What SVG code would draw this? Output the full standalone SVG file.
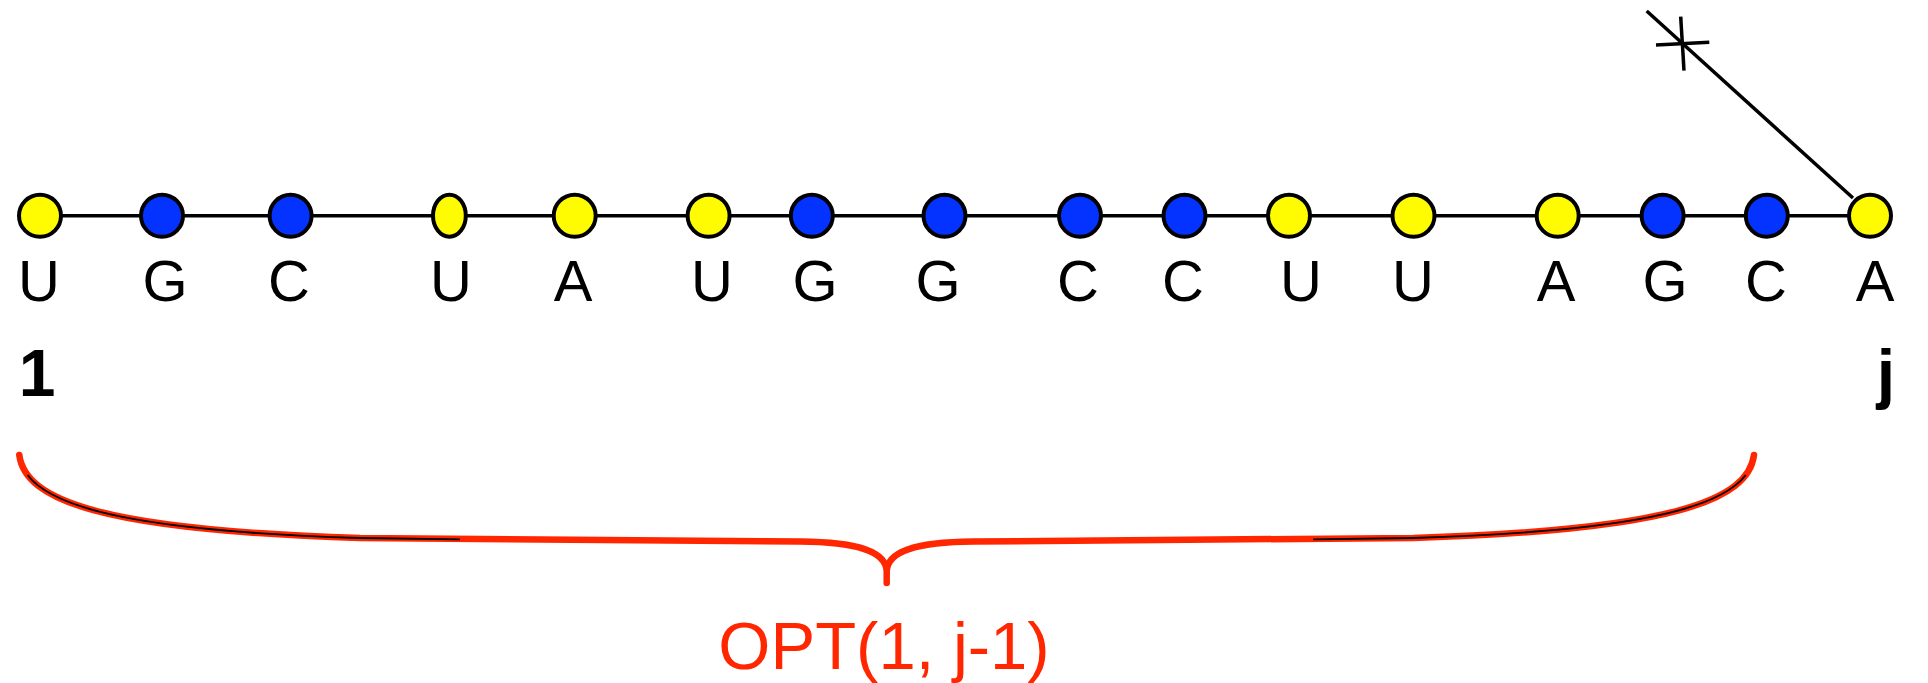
<svg xmlns="http://www.w3.org/2000/svg" width="1928" height="683" viewBox="0 0 1928 683">
<style>
.y{fill:#FFFB00;stroke:#000;stroke-width:4}
.b{fill:#0433FF;stroke:#000;stroke-width:4}
.lbl{font-family:"Liberation Sans",Arial,sans-serif;font-size:58px;fill:#000;text-anchor:middle}
.idx{font-family:"Liberation Sans",Arial,sans-serif;font-size:66px;font-weight:bold;fill:#000;text-anchor:middle}
.con{stroke:#000;stroke-width:3.5;fill:none}
.opt{font-family:"Liberation Sans",Arial,sans-serif;font-size:67px;fill:#FF2600;text-anchor:middle}
</style>
<rect width="1928" height="683" fill="#fff"/>
<g id="connectors" class="con">
<line x1="40" y1="215.7" x2="1870" y2="215.7"/>
<line x1="1853" y1="198" x2="1646.7" y2="11"/>
<line x1="1656" y1="45" x2="1709.3" y2="42.3"/>
<line x1="1680.7" y1="16.7" x2="1684" y2="70.7"/>
</g>
<g id="n1"><circle class="y" cx="40" cy="215.7" r="21"/><text class="lbl" x="39" y="301">U</text></g>
<g id="n2"><circle class="b" cx="162" cy="215.7" r="21"/><text class="lbl" x="165" y="301">G</text></g>
<g id="n3"><circle class="b" cx="290.6" cy="215.7" r="21"/><text class="lbl" x="289" y="301">C</text></g>
<g id="n4"><ellipse class="y" cx="449.4" cy="215.7" rx="16.4" ry="21"/><text class="lbl" x="451" y="301">U</text></g>
<g id="n5"><circle class="y" cx="574.7" cy="215.7" r="21"/><text class="lbl" x="573" y="301">A</text></g>
<g id="n6"><circle class="y" cx="708.6" cy="215.7" r="21"/><text class="lbl" x="712" y="301">U</text></g>
<g id="n7"><circle class="b" cx="811.8" cy="215.7" r="21"/><text class="lbl" x="815" y="301">G</text></g>
<g id="n8"><circle class="b" cx="944.5" cy="215.7" r="21"/><text class="lbl" x="938" y="301">G</text></g>
<g id="n9"><circle class="b" cx="1080" cy="215.7" r="21"/><text class="lbl" x="1078" y="301">C</text></g>
<g id="n10"><circle class="b" cx="1184.5" cy="215.7" r="21"/><text class="lbl" x="1183" y="301">C</text></g>
<g id="n11"><circle class="y" cx="1289" cy="215.7" r="21"/><text class="lbl" x="1301" y="301">U</text></g>
<g id="n12"><circle class="y" cx="1413.5" cy="215.7" r="21"/><text class="lbl" x="1413" y="301">U</text></g>
<g id="n13"><circle class="y" cx="1557.7" cy="215.7" r="21"/><text class="lbl" x="1556" y="301">A</text></g>
<g id="n14"><circle class="b" cx="1662.6" cy="215.7" r="21"/><text class="lbl" x="1665" y="301">G</text></g>
<g id="n15"><circle class="b" cx="1766.8" cy="215.7" r="21"/><text class="lbl" x="1766" y="301">C</text></g>
<g id="n16"><circle class="y" cx="1870" cy="215.7" r="21"/><text class="lbl" x="1875" y="301">A</text></g>
<g id="idx1"><text class="idx" x="37" y="396">1</text></g>
<g id="idxj"><text class="idx" x="1886" y="396">j</text></g>
<g id="brace">
<path d="M19.3 455 C25 500 100 530 360 538 L800 541.5 C860 542 886.7 552 886.7 572 L886.7 583 M886.7 572 C886.7 552 913.3 542 973.3 541.5 L1413.3 538 C1673.3 530 1748.3 500 1754 455" fill="none" stroke="#FF2600" stroke-width="6.5" stroke-linecap="round" stroke-linejoin="round"/>
<path d="M19.3 455 C25 500 100 530 360 538 L460 539.3" fill="none" stroke="#000" stroke-width="1.8" stroke-dasharray="0 22 2000"/>
<path d="M1754 455 C1748.3 500 1673.3 530 1413.3 538 L1313.3 539.3" fill="none" stroke="#000" stroke-width="1.8" stroke-dasharray="0 22 2000"/>
<text class="opt" x="884" y="669">OPT(1, j-1)</text>
</g>
</svg>
